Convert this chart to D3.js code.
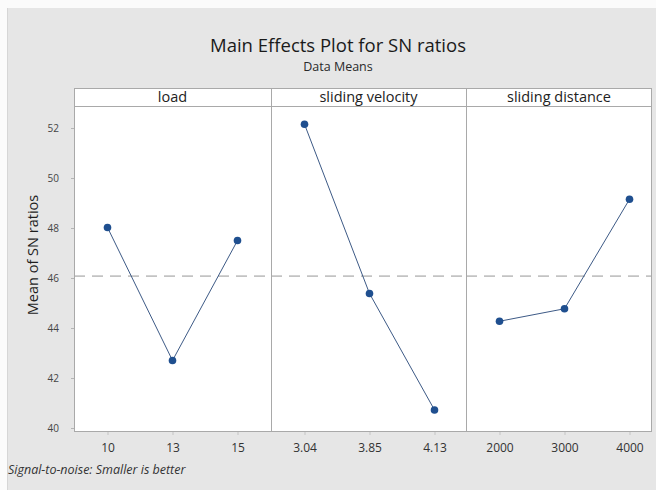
<!DOCTYPE html>
<html>
<head>
<meta charset="utf-8">
<script src="https://cdn.jsdelivr.net/npm/d3@7"></script>
<style>
  html, body { margin: 0; padding: 0; background: #fbfbfb; }
  svg { display: block; }
  text { font-family: "Open Sans", "Noto Sans", sans-serif; }
</style>
</head>
<body>
<svg id="chart" width="656" height="490"></svg>
<script>
// Factors and their levels
const factors = ["load", "sliding velocity", "sliding distance"];
const loadLevels = ["10", "13", "15"];
const velocityLevels = ["3.04", "3.85", "4.13"];
const distanceLevels = ["2000", "3000", "4000"];

// Mean of SN ratios at each level
const loadMeans = [48.02, 42.70, 47.50];
const velocityMeans = [52.15, 45.38, 40.72];
const distanceMeans = [44.27, 44.77, 49.15];

const yTicks = [40, 42, 44, 46, 48, 50, 52];

const panels = [
  { name: factors[0], levels: loadLevels, means: loadMeans },
  { name: factors[1], levels: velocityLevels, means: velocityMeans },
  { name: factors[2], levels: distanceLevels, means: distanceMeans }
];

const grandMean = d3.mean(panels.flatMap(p => p.means));

const svg = d3.select("#chart");
const W = 656, H = 490;

// Backdrop
svg.append("rect").attr("x", 7).attr("y", 8).attr("width", W - 7).attr("height", H - 8)
  .attr("fill", "#e6e6e6");
svg.append("line").attr("x1", 7.5).attr("x2", 7.5).attr("y1", 8).attr("y2", H)
  .attr("stroke", "#d6d6d6");

// Layout
const plotTop = 106, plotBottom = 432, headerTop = 88;
const edges = [74, 271, 466, 652];

const y = d3.scaleLinear().domain([39.84, 52.88]).range([plotBottom, plotTop]);

// Title
svg.append("text").attr("x", 338).attr("y", 52).attr("text-anchor", "middle")
  .attr("font-size", 18.5).attr("fill", "#1a1a1a").text("Main Effects Plot for SN ratios");
svg.append("text").attr("x", 338).attr("y", 71).attr("text-anchor", "middle")
  .attr("font-size", 12.5).attr("fill", "#2a2a2a").text("Data Means");

// Y axis title
svg.append("text")
  .attr("transform", `translate(38,${(plotTop + plotBottom) / 2 - 14}) rotate(-90)`)
  .attr("text-anchor", "middle").attr("font-size", 14.5).attr("fill", "#1e1e1e")
  .attr("font-weight", 500)
  .text("Mean of SN ratios");

// Y axis
const yAxis = svg.append("g").attr("transform", `translate(${edges[0]},0)`)
  .call(d3.axisLeft(y).tickValues(yTicks).tickSize(3).tickPadding(12));
yAxis.select(".domain").remove();
yAxis.selectAll(".tick line").attr("stroke", "#b5b5b5");
yAxis.selectAll(".tick text").attr("font-size", 10).attr("fill", "#444")
  .style("font-family", '"Open Sans", sans-serif');

// Panels
panels.forEach((p, i) => {
  const x0 = edges[i], x1 = edges[i + 1];
  const g = svg.append("g");

  // header strip and plot area
  g.append("rect").attr("x", x0).attr("y", headerTop).attr("width", x1 - x0)
    .attr("height", plotTop - headerTop).attr("fill", "#fff");
  g.append("rect").attr("x", x0).attr("y", plotTop).attr("width", x1 - x0)
    .attr("height", plotBottom - plotTop).attr("fill", "#fff");
  g.append("text").attr("x", (x0 + x1) / 2).attr("y", headerTop + 14)
    .attr("text-anchor", "middle").attr("font-size", 14.5).attr("fill", "#222").text(p.name);

  const x = d3.scalePoint().domain(p.levels).range([x0 + 33.5, x0 + 163.5]);

  // x axis
  const xa = svg.append("g").attr("transform", `translate(0,${plotBottom})`)
    .call(d3.axisBottom(x).tickSize(3).tickPadding(8));
  xa.select(".domain").remove();
  xa.selectAll(".tick line").attr("stroke", "#c4c4c4");
  xa.selectAll(".tick text").attr("font-size", 12).attr("fill", "#333")
    .style("font-family", '"Open Sans", sans-serif');

  // reference line at the grand mean
  g.append("line").attr("x1", x0).attr("x2", x1)
    .attr("y1", y(grandMean)).attr("y2", y(grandMean))
    .attr("stroke", "#c3c3c3").attr("stroke-width", 1.6).attr("stroke-dasharray", "11,7");

  // main effect line and points
  const pts = p.levels.map((lv, k) => [x(lv), y(p.means[k])]);
  g.append("path").attr("d", d3.line()(pts)).attr("fill", "none")
    .attr("stroke", "#3d5a86").attr("stroke-width", 1);
  g.selectAll("circle").data(pts).join("circle")
    .attr("cx", d => d[0]).attr("cy", d => d[1]).attr("r", 3.8)
    .attr("fill", "#1f4f8f");
});

// Frame lines
const frame = svg.append("g").attr("stroke", "#a9a9a9").attr("fill", "none");
frame.append("rect").attr("x", edges[0] + 0.5).attr("y", headerTop + 0.5)
  .attr("width", edges[3] - edges[0] - 1).attr("height", plotBottom - headerTop - 1);
frame.append("line").attr("x1", edges[0]).attr("x2", edges[3])
  .attr("y1", plotTop + 0.5).attr("y2", plotTop + 0.5);
[edges[1], edges[2]].forEach(e => {
  frame.append("line").attr("x1", e + 0.5).attr("x2", e + 0.5)
    .attr("y1", headerTop).attr("y2", plotBottom);
});

// Footnote
svg.append("text").attr("x", 8).attr("y", 474).attr("font-size", 12.5)
  .attr("font-style", "italic").attr("fill", "#333")
  .text("Signal-to-noise: Smaller is better");
</script>
</body>
</html>
